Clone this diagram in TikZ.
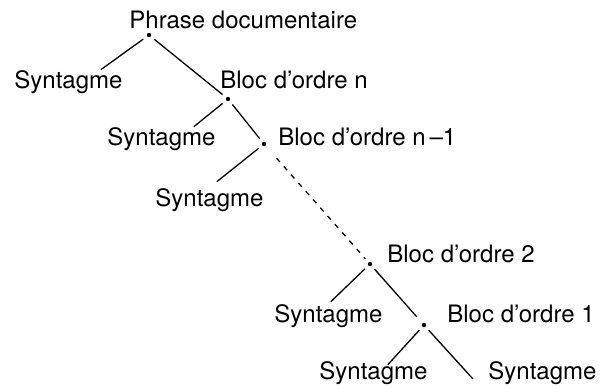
\documentclass[tikz,border=0pt]{standalone}
\usepackage{fontspec}
\setmainfont{TeX Gyre Heros}

\begin{document}
\begin{tikzpicture}[x=0.5pt, y=-0.5pt,
        word/.style={anchor=base west, inner sep=0pt, font=\fontsize{12pt}{14pt}\selectfont},
        knot/.style={circle, fill, inner sep=0pt, minimum size=2.2pt, outer sep=2.4pt},
        branch/.style={line width=0.65pt}]
        \useasboundingbox (0,0) rectangle (600,387);
        % labels of the tree
        \node[word] (phrase) at (129,  28) {Phrase documentaire};
        \node[word] (syn1)   at ( 14,  88) {Syntagme};
        \node[word] (blocn)  at (220,  88) {Bloc d'ordre n};
        \node[word] (syn2)   at (107, 145) {Syntagme};
        \node[word] (blocm)  at (278, 145) {Bloc d'ordre n\,–1};
        \node[word] (syn3)   at (155, 206) {Syntagme};
        \node[word] (bloc2)  at (387, 262) {Bloc d'ordre 2};
        \node[word] (syn4)   at (274, 322) {Syntagme};
        \node[word] (bloc1)  at (447, 322) {Bloc d'ordre 1};
        \node[word] (syn5)   at (319, 379) {Syntagme};
        \node[word] (syn6)   at (488, 379) {Syntagme};
        % branching points
        \node[knot] (k0) at (149,  35) {};
        \node[knot] (k1) at (228,  99) {};
        \node[knot] (k2) at (264, 144) {};
        \node[knot] (k3) at (370, 264) {};
        \node[knot] (k4) at (424, 325) {};
        % branches
        \draw[branch] (k0) -- ([xshift=-11pt]syn1.north east);
        \draw[branch] (k0) -- (k1);
        \draw[branch] (k1) -- ([xshift=-11pt]syn2.north east);
        \draw[branch] (k1) -- (k2);
        \draw[branch] (k2) -- ([xshift=-23.5pt, yshift=3pt]syn3.north east);
        % omitted levels
        \draw[branch, dash pattern=on 2.5pt off 3pt, shorten <=6pt] (k2) -- (k3);
        \draw[branch] (k3) -- ([xshift=-26pt, yshift=1pt]syn4.north east);
        \draw[branch, shorten >=2pt] (k3) -- (k4);
        \draw[branch] (k4) -- ([xshift=-20pt, yshift=-2pt]syn5.north east);
        \draw[branch] (k4) -- ([xshift=-7.5pt]syn6.base west);
\end{tikzpicture}
\end{document}
